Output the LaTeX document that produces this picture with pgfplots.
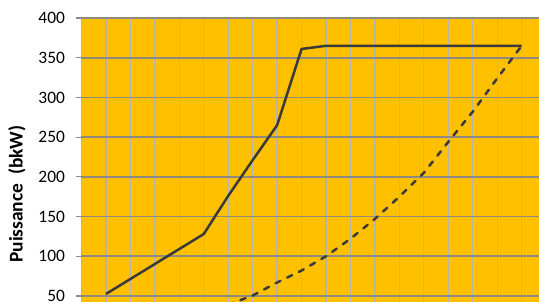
\documentclass[border=0pt]{standalone}
\usepackage{pgfplots}
\pgfplotsset{compat=1.18}
\usepackage{fontspec}
\setmainfont{Carlito}
\definecolor{bggold}{HTML}{FFC000}
\definecolor{hgrid}{HTML}{8E8A80}
\definecolor{vgrid}{HTML}{B8B4AC}
\definecolor{linegray}{HTML}{3A3A3A}
\begin{document}
\begin{tikzpicture}
\begin{axis}[
  name=ax,
  scale only axis,
  width=457.5bp, height=284bp,
  xmin=0, xmax=18.71,
  ymin=42.4, ymax=400,
  axis background/.style={fill=bggold},
  axis line style={draw=none},
  clip=true,
  xtick={0,1,...,18},
  xticklabels={},
  xtick style={draw=none},
  ytick={0,50,...,400},
  ytick pos=left,
  tick align=outside,
  major tick length=5bp,
  ytick style={draw=hgrid, line width=1.2bp},
  xmajorgrids=true,
  ymajorgrids=true,
  x grid style={draw=vgrid, line width=1.3bp},
  y grid style={draw=hgrid, line width=1.6bp},
  /pgf/number format/assume math mode=true,
  yticklabel style={font=\fontsize{17.5}{20}\selectfont, text=black, xshift=-8bp},
  ylabel={Puissance\ \ (bkW)},
  ylabel style={font=\fontsize{19.5}{22}\selectfont\bfseries, at={(axis description cs:-0.141,0.38)}, anchor=center},
]
\addplot[linegray, line width=2.5bp, line join=round] coordinates {
(1,52.5) (5,128) (6,176) (7,221) (8,265) (9,361) (10,365) (18,365)
};
\addplot[linegray, line width=2.5bp, line cap=round, dash pattern=on 5.5bp off 7.5bp] coordinates {
(5,28) (6,39) (7,50.5) (8,67) (9,82) (10,100) (11,122) (12,147) (13,175) (14,205) (15,244) (16,282) (17,324) (18,365)
};
\end{axis}
\pgfresetboundingbox
\useasboundingbox ([xshift=-81.5bp]ax.south west) rectangle ([yshift=18bp]ax.north east);
\end{tikzpicture}
\end{document}
